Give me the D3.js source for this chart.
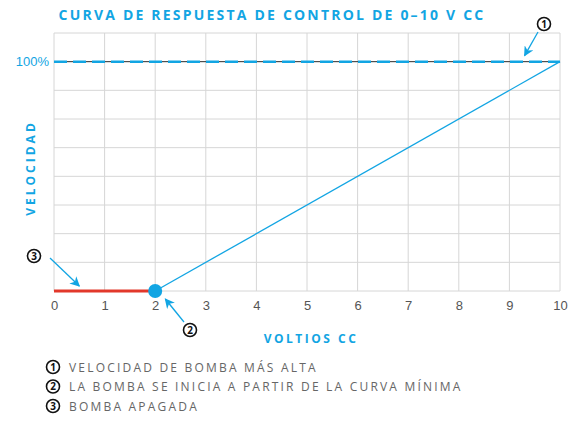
<!DOCTYPE html>
<html>
<head>
<meta charset="utf-8">
<script src="https://cdn.jsdelivr.net/npm/d3@7"></script>
<style>
	body { margin: 0; background: #fff; }
	svg { display: block; font-family: "Open Sans", "Noto Sans", sans-serif; }
</style>
</head>
<body>
<div id="chart"></div>
<script>
// data
const offX = [0, 2];          // voltios, bomba apagada
const offY = [0, 0];
const rampX = [2, 10];        // respuesta lineal
const rampY = [0, 100];
const xTicks = [0, 1, 2, 3, 4, 5, 6, 7, 8, 9, 10];
const yGrid = [0, 12.5, 25, 37.5, 50, 62.5, 75, 87.5, 100, 112.5];
const yLabels = [100];
const notes = [
	'VELOCIDAD DE BOMBA MÁS ALTA',
	'LA BOMBA SE INICIA A PARTIR DE LA CURVA MÍNIMA',
	'BOMBA APAGADA'
];

const W = 576, H = 424;
const m = { top: 33, right: 16, bottom: 133, left: 54 };
const width = W - m.left - m.right, height = H - m.top - m.bottom;
const blue = '#12a5e3', red = '#e2382b';

const svg = d3.select('#chart').append('svg')
	.attr('width', W).attr('height', H)
	.attr('viewBox', `0 0 ${W} ${H}`);

svg.append('defs').append('marker')
	.attr('id', 'arr')
	.attr('viewBox', '0 0 10 10')
	.attr('refX', 9).attr('refY', 5)
	.attr('markerWidth', 10).attr('markerHeight', 10)
	.attr('markerUnits', 'userSpaceOnUse')
	.attr('orient', 'auto')
	.append('path').attr('d', 'M0,0 L10,5 L0,10 L3,5 Z').attr('fill', blue);

const g = svg.append('g').attr('transform', `translate(${m.left},${m.top})`);

const x = d3.scaleLinear().domain([0, 10]).range([0, width]);
const y = d3.scaleLinear().domain([0, 112.5]).range([height, 0]);

// grid
g.append('g').selectAll('line.v').data(xTicks).enter().append('line')
	.attr('x1', d => x(d)).attr('x2', d => x(d))
	.attr('y1', 0).attr('y2', height)
	.attr('stroke', '#d6d6d6').attr('stroke-width', 1);
g.append('g').selectAll('line.h').data(yGrid).enter().append('line')
	.attr('x1', 0).attr('x2', width)
	.attr('y1', d => y(d)).attr('y2', d => y(d))
	.attr('stroke', '#d6d6d6').attr('stroke-width', 1);

// x axis
const xAxis = g.append('g')
	.attr('transform', `translate(0,${height})`)
	.call(d3.axisBottom(x).tickValues(xTicks).tickSize(0).tickPadding(10).tickFormat(d3.format('d')));
xAxis.select('.domain').remove();
xAxis.selectAll('text').attr('fill', '#555').style('font-size', '13px');

// y axis
const yAxis = g.append('g')
	.call(d3.axisLeft(y).tickValues(yLabels).tickSize(0).tickPadding(5).tickFormat(d => d + '%'));
yAxis.select('.domain').remove();
yAxis.selectAll('text').attr('fill', blue).style('font-size', '13px');

// 100% line
g.append('line')
	.attr('x1', 0).attr('x2', width)
	.attr('y1', y(100)).attr('y2', y(100))
	.attr('stroke', '#333').attr('stroke-width', 1);
g.append('line')
	.attr('x1', 0).attr('x2', width)
	.attr('y1', y(100)).attr('y2', y(100))
	.attr('stroke', blue).attr('stroke-width', 2.5)
	.attr('stroke-dasharray', '13,6');

// series
const line = d3.line().x(d => x(d[0])).y(d => y(d[1]));
g.append('path')
	.datum(rampX.map((v, i) => [v, rampY[i]]))
	.attr('d', line).attr('fill', 'none')
	.attr('stroke', blue).attr('stroke-width', 1.3);
g.append('path')
	.datum(offX.map((v, i) => [v, offY[i]]))
	.attr('d', line).attr('fill', 'none')
	.attr('stroke', red).attr('stroke-width', 3);
g.append('circle')
	.attr('cx', x(rampX[0])).attr('cy', y(rampY[0])).attr('r', 7)
	.attr('fill', blue);

// titles
svg.append('text')
	.attr('x', 272).attr('y', 20)
	.attr('text-anchor', 'middle')
	.attr('fill', blue)
	.style('font-size', '14px').style('font-weight', 'bold').style('letter-spacing', '2.2px')
	.text('CURVA DE RESPUESTA DE CONTROL DE 0–10 V CC');
svg.append('text')
	.attr('transform', `translate(35,168) rotate(-90)`)
	.attr('text-anchor', 'middle')
	.attr('fill', blue)
	.style('font-size', '12px').style('font-weight', 'bold').style('letter-spacing', '3px')
	.text('VELOCIDAD');
svg.append('text')
	.attr('x', 311).attr('y', 343)
	.attr('text-anchor', 'middle')
	.attr('fill', blue)
	.style('font-size', '12px').style('font-weight', 'bold').style('letter-spacing', '2.5px')
	.text('VOLTIOS CC');

// numbered marker
function badge(sel, cx, cy, n) {
	sel.append('circle').attr('cx', cx).attr('cy', cy).attr('r', 6.5)
		.attr('fill', '#fff').attr('stroke', '#111').attr('stroke-width', 1.6);
	sel.append('text').attr('x', cx).attr('y', cy + 3.5)
		.attr('text-anchor', 'middle').attr('fill', '#111')
		.style('font-size', '10px').style('font-weight', 'bold').text(n);
}
function arrow(x1, y1, x2, y2) {
	svg.append('line').attr('x1', x1).attr('y1', y1).attr('x2', x2).attr('y2', y2)
		.attr('stroke', blue).attr('stroke-width', 1.3).attr('marker-end', 'url(#arr)');
}

// annotations, anchored on data points
const p1 = [m.left + x(9.3), m.top + y(100) - 6];
const p2 = [m.left + x(2.2), m.top + y(0) + 8];
const p3 = [m.left + x(0.5), m.top + y(0) - 5];
badge(svg, 544, 24, 1); arrow(538, 32, p1[0], p1[1]);
badge(svg, 190, 330, 2); arrow(184, 322, p2[0], p2[1]);
badge(svg, 34, 256, 3); arrow(50, 258, p3[0], p3[1]);

// notes
notes.forEach((t, i) => {
	const cy = 367 + i * 19.5;
	badge(svg, 53, cy, i + 1);
	svg.append('text').attr('x', 69).attr('y', cy + 4.5)
		.attr('fill', '#666')
		.style('font-size', '12px').style('letter-spacing', '2.2px')
		.text(t);
});
</script>
</body>
</html>
